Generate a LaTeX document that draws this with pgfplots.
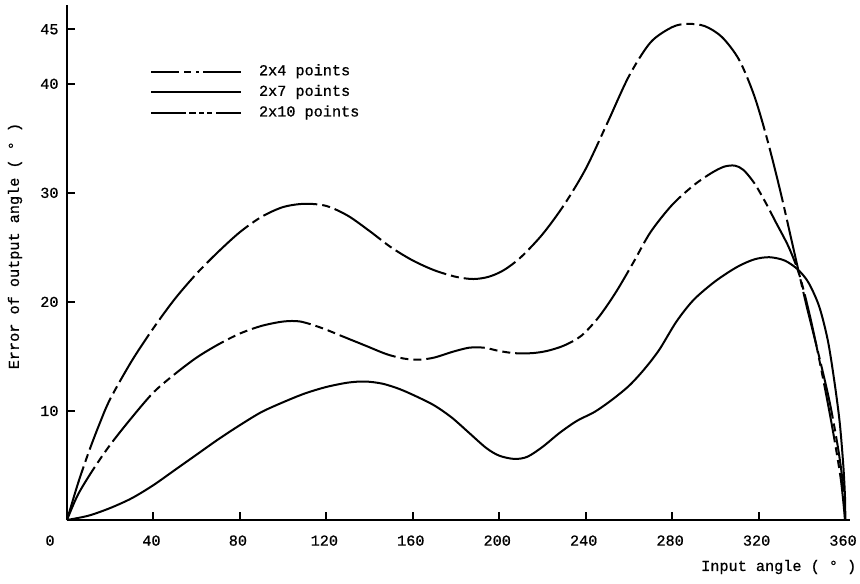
\documentclass[border=0pt]{standalone}
\usepackage{pgfplots}
\pgfplotsset{compat=1.18}
\usepackage{fontspec}
\setmainfont[FakeBold=0.8]{Liberation Mono}
\begin{document}
\fontsize{7.6}{9}\selectfont
\begin{tikzpicture}
\useasboundingbox (-33.5pt,-31.5pt) rectangle (396.5pt,260pt);
\begin{axis}[
  at={(0pt,0pt)}, anchor=south west,
  scale only axis, width=391.5pt, height=257.5pt,
  xmin=0, xmax=362.3, ymin=0, ymax=47.23,
  axis x line=bottom, axis y line=left,
  axis line style={line width=1.3pt,-},
  tick align=inside, major tick length=4pt,
  tick style={line width=1pt, black},
  xtick={0,40,...,360},
  xticklabels={\makebox[0pt][r]{0\hspace{5.2pt}},40,80,120,160,200,240,280,320,360},
  ytick={10,20,30,40,45},
  yticklabels={10,20,30,40,45},
  xticklabel style={yshift=-5pt, xshift=-1pt},
  yticklabel style={xshift=-1.5pt},
  xlabel={Input angle ( ° )},
  xlabel style={at={(axis description cs:0.909,-0.0913)}, anchor=center},
  ylabel={Error of output angle ( ° )},
  ylabel style={at={(axis description cs:-0.0664,0.532)}, anchor=center},
  legend style={draw=none, fill=none, at={(axis description cs:0.106,0.883)}, anchor=north west,
    inner sep=0pt, outer sep=0pt, row sep=3.8pt,
    nodes={inner sep=0pt, text height=5pt, text depth=1.5pt},
    /tikz/every odd column/.append style={column sep=8.5pt}},
  legend cell align=left,
  legend image code/.code={\draw[#1] (0pt,0pt) -- (45pt,0pt);},
  clip=false,
]
\addlegendimage{line width=1pt, dash pattern=on 14pt off 2.5pt on 3.5pt off 2.5pt on 1.5pt off 2pt on 20pt off 0pt}
\addlegendentry{2x4 points}
\addlegendimage{line width=1pt}
\addlegendentry{2x7 points}
\addlegendimage{line width=1pt, dash pattern=on 17.5pt off 1.5pt on 3.5pt off 1.5pt on 2.5pt off 1.5pt on 2.5pt off 2pt on 13pt off 0pt}
\addlegendentry{2x10 points}

% 2x4 points (top)
\addplot[line width=1pt, smooth, tension=0.5, forget plot,
  dash pattern=on 28pt off 2.5pt on 4pt off 2.5pt] coordinates {
(0,0) (5,3.3) (10,6.2) (15,8.8) (20,11.1) (30,14.6) (40,17.6) (50,20.3)
(60,22.6) (70,24.6) (80,26.4) (90,27.8) (100,28.7) (110,29.0) (120,28.8)
(130,27.9) (140,26.5) (150,25.0) (160,23.8) (170,22.9) (180,22.3) (188,22.1)
(195,22.3) (202,22.9) (210,24.1) (220,26.2) (230,28.9) (240,32.2) (250,36.4)
(260,40.7) (270,43.8) (280,45.2) (287,45.5) (295,45.3) (303,44.3) (311,42.2)
(318,38.9) (324,34.9) (330,30.2) (336,25.0) (342,19.8) (348,15.0) (353,10.7)
(357,6.3) (359.3,2.8) (360,0)
};
% 2x10 points (middle)
\addplot[line width=1pt, smooth, tension=0.5, forget plot,
  dash pattern=on 30pt off 2.5pt on 4pt off 2.5pt on 4pt off 2.5pt] coordinates {
(0,0) (5,2.3) (12,4.6) (20,6.9) (30,9.4) (40,11.7) (50,13.4) (60,14.9)
(70,16.1) (80,17.1) (90,17.8) (100,18.2) (108,18.2) (118,17.6) (128,16.8)
(138,16.0) (148,15.2) (156,14.8) (163,14.7) (170,14.9) (178,15.4) (186,15.8)
(193,15.8) (200,15.5) (207,15.3) (215,15.3) (222,15.5) (230,16.0) (238,16.9)
(246,18.6) (254,20.9) (262,23.6) (270,26.4) (280,28.9) (290,30.7) (298,31.8)
(304,32.4) (309,32.5) (313,32.1) (318,30.9) (323,29.2) (328,27.3) (334,25.0)
(339,22.4) (344,18.5) (349,13.8) (354,8.6) (358,3.8) (360,0)
};
% 2x7 points (bottom, solid)
\addplot[line width=1pt, smooth, tension=0.5, forget plot] coordinates {
(0,0) (10,0.4) (20,1.1) (30,2.0) (40,3.2) (50,4.6) (60,6.0) (70,7.4)
(80,8.7) (90,9.9) (100,10.8) (110,11.6) (120,12.2) (130,12.6) (138,12.7)
(146,12.5) (154,12.0) (162,11.3) (170,10.5) (178,9.4) (186,8.0) (194,6.6)
(200,5.9) (207,5.6) (213,5.8) (220,6.7) (228,8.0) (236,9.1) (244,9.9)
(252,11.0) (260,12.3) (267,13.8) (274,15.6) (282,18.2) (290,20.2) (300,21.9)
(310,23.2) (318,23.9) (325,24.1) (332,23.8) (338,23.0) (343,21.8) (348,19.6)
(352,16.5) (355,12.8) (357.5,9.0) (359.2,5.0) (360,2.0) (360.1,0)
};
\end{axis}
\end{tikzpicture}
\end{document}
